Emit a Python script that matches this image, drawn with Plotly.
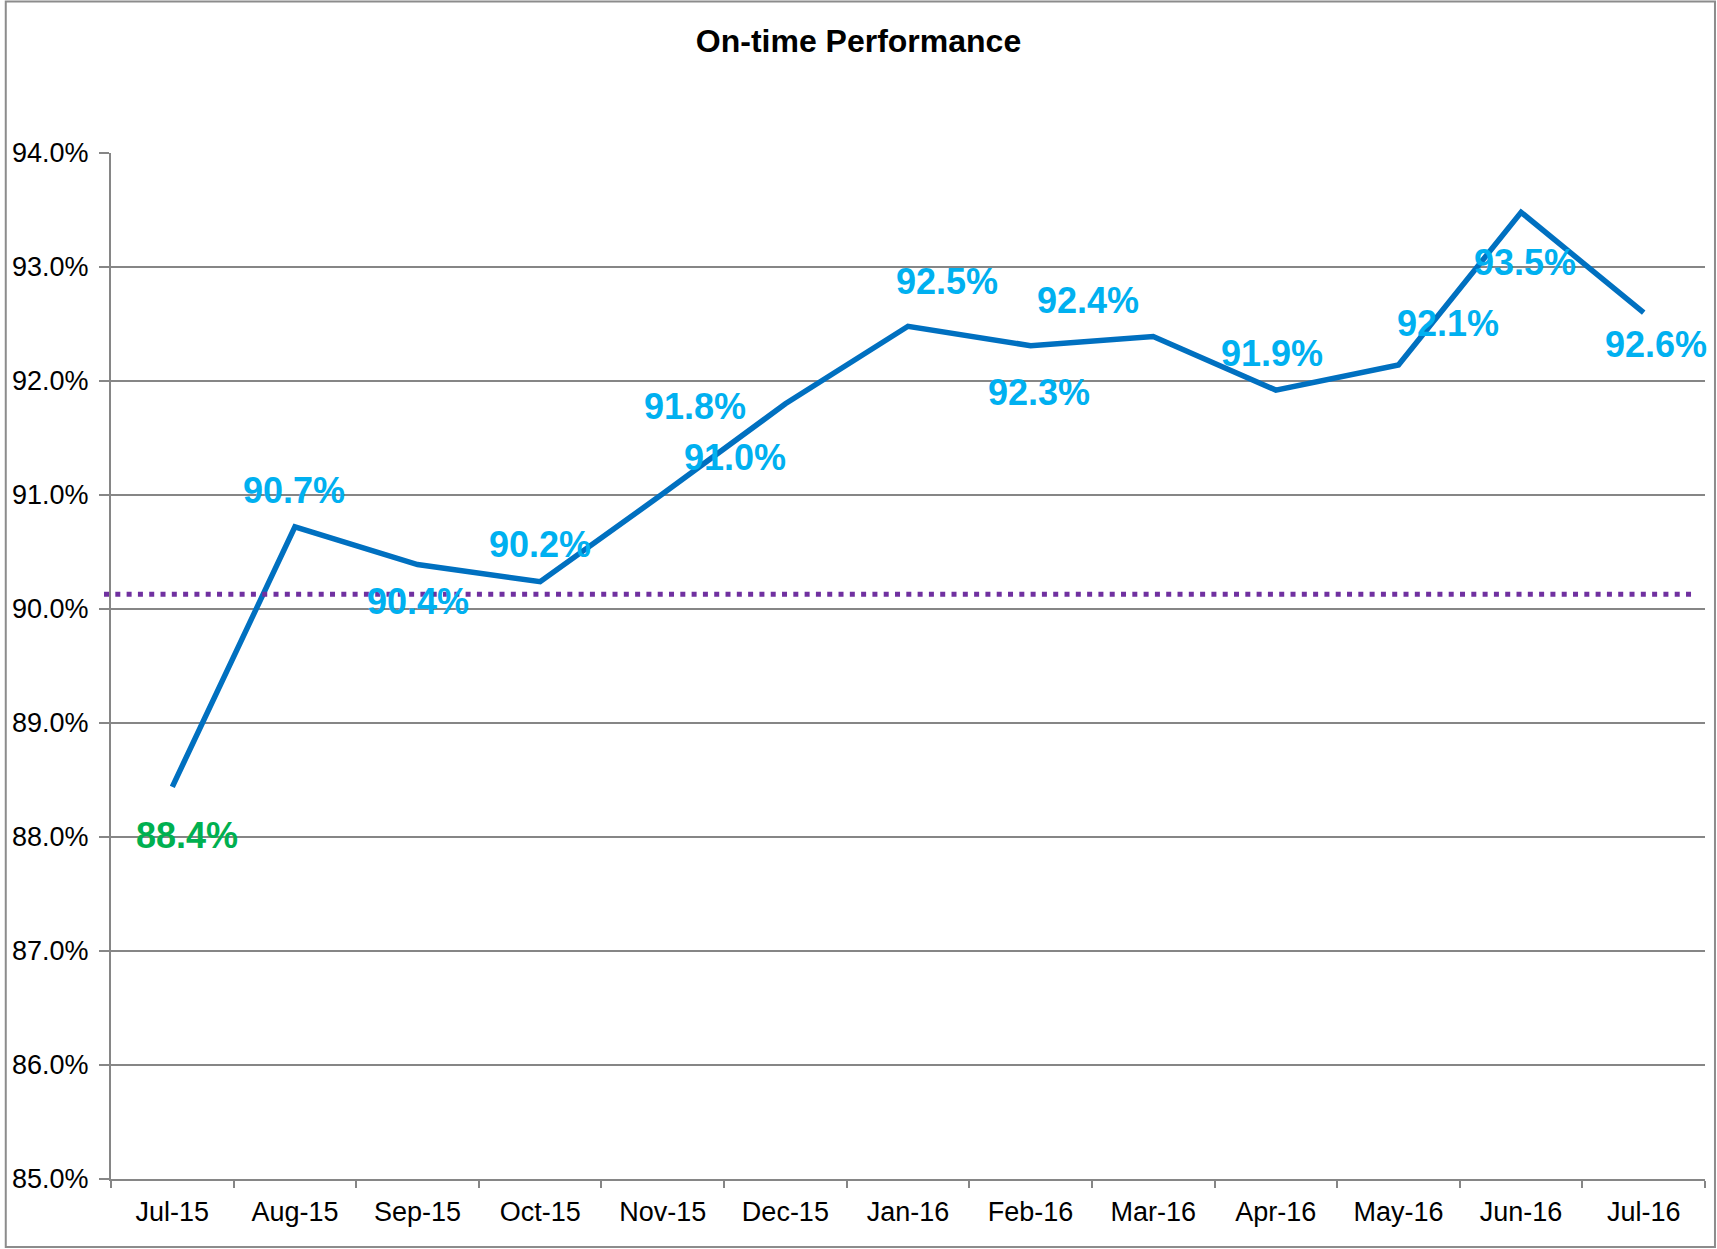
import plotly.graph_objects as go

# ---- data ----
months = ["Jul-15", "Aug-15", "Sep-15", "Oct-15", "Nov-15", "Dec-15", "Jan-16",
          "Feb-16", "Mar-16", "Apr-16", "May-16", "Jun-16", "Jul-16"]
on_time_pct = [88.44, 90.72, 90.39, 90.24, 91.01, 91.80, 92.48,
               92.31, 92.39, 91.92, 92.14, 93.48, 92.60]
target_pct = 90.13
y_ticks = [85, 86, 87, 88, 89, 90, 91, 92, 93, 94]
y_tick_labels = [f"{v:.1f}%" for v in y_ticks]

# ---- label placement (pixel offsets: dx right, dy down) ----
label_offsets = [(15, 49), (-1, -36), (0, 37), (0, -37), (72, -36), (-90, 3), (39, -45),
                 (8, 47), (-65, -36), (-4, -37), (50, -42), (4, 50), (12, 32)]
label_colors = ["#00B050"] + ["#00B0F0"] * 12

FONT = "Liberation Sans, Arial, sans-serif"
W, H = 1717, 1249
L, R, T, B = 107, 12, 153, 70
pw, ph = W - L - R, H - T - B

fig = go.Figure()
fig.add_trace(go.Scatter(
    x=months, y=on_time_pct, mode="lines",
    line=dict(color="#0070C0", width=5.5),
    hoverinfo="x+y", showlegend=False,
))

# target dotted line
fig.add_shape(type="line", xref="paper", yref="y",
              x0=(100 - L) / pw, x1=(1693 - L) / pw, y0=target_pct, y1=target_pct,
              line=dict(color="#7030A0", width=5, dash="5px,6.3px"))

# outer border
fig.add_shape(type="rect", xref="paper", yref="paper",
              x0=(1.5 - L) / pw, x1=(W - 2 - L) / pw,
              y0=(T + ph - (H - 2)) / ph, y1=(T + ph - 1.5) / ph,
              line=dict(color="#8C8C8C", width=2), layer="below")

for m, v, (dx, dy), c in zip(months, on_time_pct, label_offsets, label_colors):
    fig.add_annotation(x=m, y=v, text=f"{v:.1f}%", showarrow=False,
                       xshift=dx, yshift=-dy,
                       font=dict(family=FONT, size=36, color=c, weight="bold"))

fig.update_layout(
    width=W, height=H,
    margin=dict(l=L, r=R, t=T, b=B),
    paper_bgcolor="white", plot_bgcolor="white",
    title=dict(text="<b>On-time Performance</b>", x=0.5, xref="container",
               y=1 - 40.5 / H, yref="container", yanchor="middle", xanchor="center",
               font=dict(family=FONT, size=32, color="black")),
    xaxis=dict(type="category", range=[-0.5, 12.5], tickson="boundaries",
               ticks="outside", ticklen=7, tickwidth=1.5, tickcolor="#868686",
               showline=True, linecolor="#868686", linewidth=2,
               showgrid=False, zeroline=False,
               tickfont=dict(family=FONT, size=27, color="black"),
               ticklabelstandoff=8),
    yaxis=dict(range=[85, 94], tickvals=y_ticks, ticktext=y_tick_labels,
               ticks="outside", ticklen=10, tickwidth=1.5, tickcolor="#868686",
               showline=True, linecolor="#868686", linewidth=2,
               showgrid=True, gridcolor="#868686", gridwidth=2, zeroline=False,
               tickfont=dict(family=FONT, size=27, color="black"),
               ticklabelstandoff=5),
)

fig.write_html("out.html", config={"displayModeBar": False},
               post_script="document.body.style.margin='0';document.body.style.overflow='hidden';")
